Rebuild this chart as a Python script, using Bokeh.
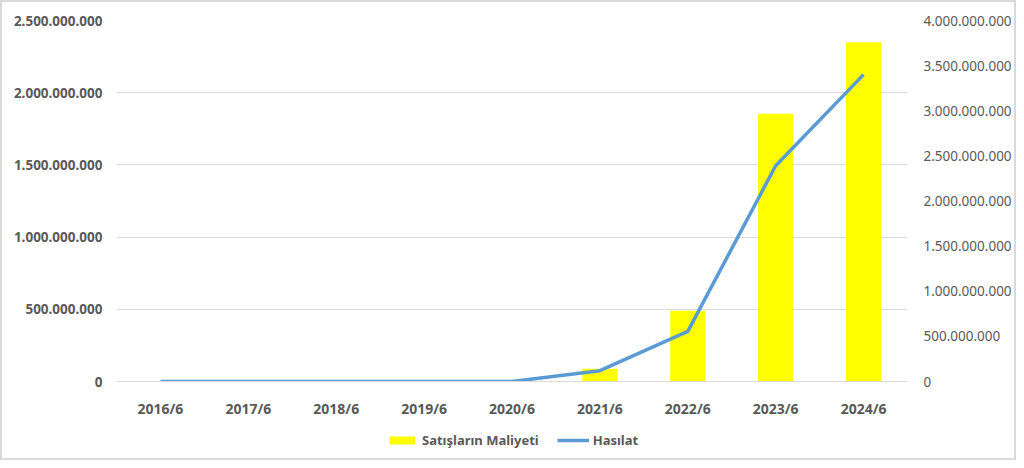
from bokeh.embed import file_html
from bokeh.layouts import column
from bokeh.models import (ColumnDataSource, CustomJSTickFormatter, FixedTicker,
                          Legend, LegendItem, LinearAxis, Range1d)
from bokeh.plotting import figure
from bokeh.resources import INLINE

periods = ["2016/6", "2017/6", "2018/6", "2019/6", "2020/6",
           "2021/6", "2022/6", "2023/6", "2024/6"]
satis_maliyeti = [0, 0, 0, 0, 0, 88e6, 490e6, 1855e6, 2350e6]
hasilat = [0, 0, 0, 0, 0, 120e6, 555e6, 2390e6, 3400e6]

left_ticks = [0, 500e6, 1000e6, 1500e6, 2000e6, 2500e6]
right_ticks = [0, 500e6, 1000e6, 1500e6, 2000e6, 2500e6, 3000e6, 3500e6, 4000e6]

FONT = "Noto Sans"
GREY = "#595959"
YELLOW = "#FFFF00"
BLUE = "#5B9BD5"

source = ColumnDataSource(data=dict(period=periods, cost=satis_maliyeti, rev=hasilat))

p = figure(
    x_range=periods,
    y_range=Range1d(0, 2.5e9),
    width=1012,
    height=418,
    output_backend="svg",
    toolbar_location=None,
    min_border_left=114,
    min_border_right=106,
    min_border_top=18,
    min_border_bottom=32,
)
p.extra_y_ranges = {"rev": Range1d(0, 4e9)}

dotted = CustomJSTickFormatter(
    code="return Math.round(tick).toString().replace(/\\B(?=(\\d{3})+(?!\\d))/g, '.');"
)

p.vbar(x="period", top="cost", width=0.4, source=source,
       color=YELLOW, line_color=None)
p.line(x="period", y="rev", source=source, y_range_name="rev",
       line_color=BLUE, line_width=3.5, line_join="round")

# left axis
ax = p.yaxis[0]
ax.ticker = FixedTicker(ticks=left_ticks)
ax.formatter = dotted
ax.axis_line_color = None
ax.major_tick_line_color = None
ax.minor_tick_line_color = None
ax.major_label_text_font = FONT
ax.major_label_text_font_size = "13.5px"
ax.major_label_text_font_style = "bold"
ax.major_label_text_color = GREY
ax.major_label_standoff = 8

# right axis
ra = LinearAxis(y_range_name="rev", ticker=FixedTicker(ticks=right_ticks),
                formatter=dotted)
ra.axis_line_color = None
ra.major_tick_line_color = None
ra.minor_tick_line_color = None
ra.major_label_text_font = FONT
ra.major_label_text_font_size = "13.5px"
ra.major_label_text_color = GREY
ra.major_label_standoff = 10
p.add_layout(ra, "right")

# x axis
xa = p.xaxis[0]
xa.axis_line_color = "#D9D9D9"
xa.major_tick_line_color = None
xa.minor_tick_line_color = None
xa.major_label_text_font = FONT
xa.major_label_text_font_size = "14px"
xa.major_label_text_font_style = "bold"
xa.major_label_text_color = GREY
xa.major_label_standoff = 11

p.xgrid.grid_line_color = None
p.ygrid.grid_line_color = "#D9D9D9"
p.ygrid.ticker = FixedTicker(ticks=left_ticks)
p.outline_line_color = None

# legend strip under the chart (its frame lines up with the chart frame)
lp = figure(
    width=1012,
    height=38,
    x_range=Range1d(0, 1),
    y_range=Range1d(0, 1),
    output_backend="svg",
    toolbar_location=None,
    min_border=0,
)
lp.axis.visible = False
lp.grid.grid_line_color = None
lp.outline_line_color = None
key_src = ColumnDataSource(data=dict(x=[-5], y=[0]))
bar_key = lp.vbar(x="x", top="y", width=0.4, source=key_src, color=YELLOW, line_color=None)
line_key = lp.line(x="x", y="y", source=key_src, line_color=BLUE, line_width=3.5)

legend = Legend(items=[LegendItem(label="Satışların Maliyeti", renderers=[bar_key]),
                       LegendItem(label="Hasılat", renderers=[line_key])],
                orientation="horizontal", location=(270, 9))
legend.border_line_color = None
legend.background_fill_alpha = 0
legend.label_text_font = FONT
legend.label_text_font_size = "13px"
legend.label_text_font_style = "bold"
legend.label_text_color = GREY
legend.glyph_width = 32
legend.glyph_height = 10
legend.spacing = 18
legend.label_standoff = 4
legend.padding = 0
legend.margin = 0
lp.add_layout(legend)

layout = column(p, lp, spacing=0)
layout.styles = {"border": "2px solid #D9D9D9"}

open("out.html", "w").write(file_html(layout, INLINE))
